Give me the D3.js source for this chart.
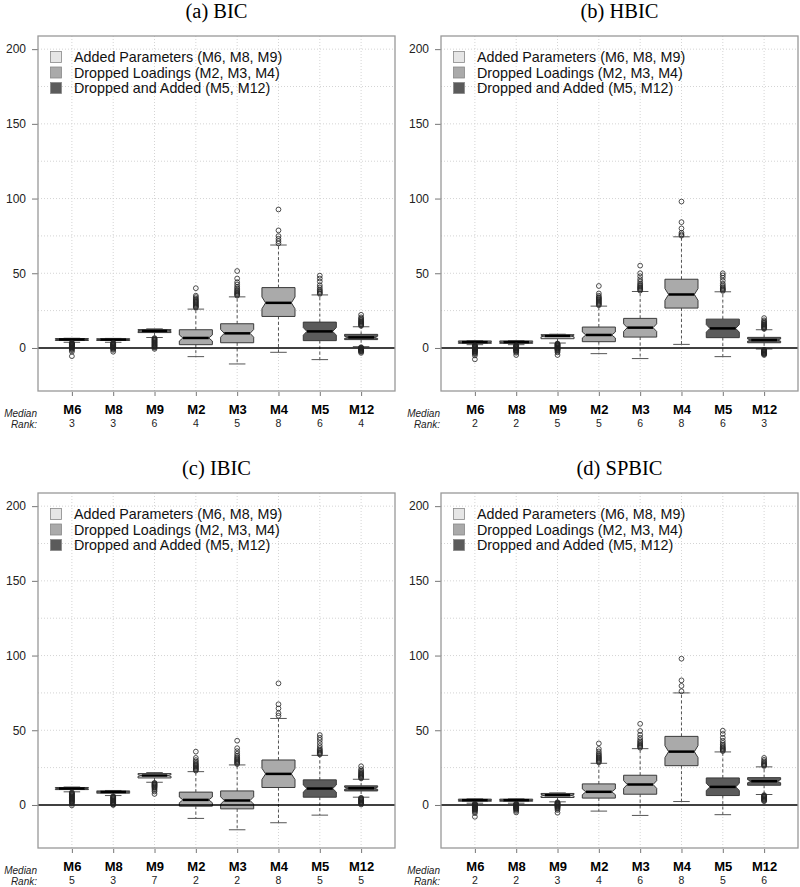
<!DOCTYPE html>
<html><head><meta charset="utf-8">
<script src="https://cdn.jsdelivr.net/npm/d3@7"></script>
<style>body{margin:0;background:#fff}</style>
</head><body><svg id="c" width="800" height="887"></svg>
<script>
const models = ["M6","M8","M9","M2","M3","M4","M5","M12"];
const groupOf = [0,0,0,1,1,1,2,2];
const groupColors = ["#e6e6e6","#aaaaaa","#5b5b5b"];
const legendLabels = ["Added Parameters (M6, M8, M9)","Dropped Loadings (M2, M3, M4)","Dropped and Added (M5, M12)"];
const yTicks = [0,50,100,150,200];
const yGrid = [25,50,75,100,125,150,175,200];
const panelTitles = ["(a) BIC","(b) HBIC","(c) IBIC","(d) SPBIC"];
const sampleN = 60;

// (a) BIC
const bicLow  = [3.8, 3.8, 7.0, -5.8, -10.7, -2.9, -7.8, 0.9];
const bicQ1   = [5.0, 5.0, 10.3, 2.2, 3.5, 21.1, 4.9, 5.6];
const bicMed  = [5.7, 5.6, 11.4, 6.7, 9.8, 30.2, 11.1, 7.1];
const bicQ3   = [6.3, 6.2, 12.3, 12.2, 16.2, 40.4, 17.3, 9.1];
const bicHigh = [6.5, 6.4, 12.8, 26, 34.2, 68.9, 35.5, 14.2];
const bicRank = [3,3,6,4,5,8,6,4];
const bicOut = [
  [3.5,3.2,3.0,2.8,2.5,2.2,2.0,1.7,1.5,1.2,1.0,0.7,0.4,0.1,-0.3,-0.8,-1.5,-2.5,-5.5],
  [3.5,3.2,2.9,2.6,2.3,2.0,1.7,1.4,1.1,0.8,0.5,0.2,-0.2,-0.7,-1.3,-2.5],
  [6.6,6.2,5.8,5.4,5.0,4.6,4.2,3.8,3.4,3.0,2.6,2.2,1.8,1.4,1.0,0.6,0.2,-0.6],
  [27,27.5,28,28.6,29.2,29.8,30.4,31,31.6,32.2,33,34,35,40],
  [35,35.6,36.2,36.8,37.5,38.2,39,40,41,42.5,44,46.5,51.5],
  [70,71.5,73.1,74.9,78.7,92.7],
  [36.2,36.8,37.5,38.3,39.2,40.5,42,44.5,46.5,48.4],
  [14.8,15.3,15.8,16.3,16.8,17.3,17.8,18.4,19,19.7,20.5,22.2,0.5,0.2,-0.1,-0.4,-0.7,-1,-1.3,-1.6,-1.9,-2.2,-2.6,-3.3]
];

// (b) HBIC
const hbicLow  = [2.2, 2.2, 3.3, -3.8, -7.1, 2.4, -5.8, -0.7];
const hbicQ1   = [3.1, 3.1, 6.2, 4.2, 7.3, 26.7, 6.9, 3.5];
const hbicMed  = [3.9, 3.9, 8.0, 8.7, 13.6, 35.8, 13.1, 5.3];
const hbicQ3   = [4.7, 4.7, 8.9, 14, 19.8, 46, 19.3, 7.1];
const hbicHigh = [4.9, 4.9, 9.2, 28, 37.8, 74.4, 37.6, 12.2];
const hbicRank = [2,2,5,5,6,8,6,3];
const hbicOut = [
  [1.9,1.6,1.3,1.0,0.7,0.4,0.1,-0.2,-0.5,-0.8,-1.1,-1.4,-1.7,-2,-2.3,-2.6,-3,-3.5,-4,-5,-7.6],
  [1.9,1.6,1.3,1.0,0.7,0.4,0.1,-0.2,-0.5,-0.8,-1.1,-1.4,-1.7,-2.1,-2.6,-3.2,-4.7],
  [3.0,2.7,2.4,2.1,1.8,1.5,1.2,0.9,0.6,0.3,0,-0.3,-0.6,-0.9,-1.2,-1.6,-2.2,-3,-4.7],
  [28.6,29.2,29.8,30.4,31,31.6,32.2,32.8,33.4,34,35,36.5,41.5],
  [38.4,39,39.6,40.2,40.8,41.5,42.3,43.2,44.5,46,48,50,55.1],
  [75.2,76,77.1,80,84.2,98],
  [38.2,38.8,39.4,40,40.8,41.8,43,45,47,48.6,50],
  [12.8,13.3,13.8,14.3,14.8,15.3,15.8,16.4,17,17.7,18.5,20,-1.2,-1.5,-1.8,-2.1,-2.4,-2.7,-3,-3.3,-3.6,-3.9,-4.2,-4.7]
];

// (c) IBIC
const ibicLow  = [8.8, 6.3, 15.2, -9, -16.6, -11.9, -6.8, 5.2];
const ibicQ1   = [10.3, 7.9, 18.1, -0.8, -2.6, 11.7, 5.2, 9.4];
const ibicMed  = [11.0, 8.7, 19.7, 3.4, 3.0, 20.8, 11.0, 11.2];
const ibicQ3   = [11.7, 9.4, 21.0, 8.6, 9.4, 30.1, 16.8, 12.8];
const ibicHigh = [12.0, 9.7, 21.7, 22.3, 26.8, 57.9, 33.2, 17.2];
const ibicRank = [5,3,7,2,2,8,5,5];
const ibicOut = [
  [8.4,8.0,7.6,7.2,6.8,6.4,6.0,5.6,5.2,4.8,4.4,4.0,3.6,3.2,2.8,2.4,2.0,1.5,0.8,-0.3],
  [5.9,5.5,5.1,4.7,4.3,3.9,3.5,3.1,2.7,2.3,1.9,1.5,1.1,0.7,0.3,0],
  [14.8,14.4,14,13.6,13.2,12.8,12.4,12,11.5,10.8,10,9,7.4],
  [23,23.6,24.2,24.8,25.4,26,26.6,27.3,28,29,30,31.5,35.7],
  [27.4,28,28.6,29.2,29.8,30.5,31.2,32,33,34.3,36,38,43],
  [59.7,61.4,64.6,67.4,81.4],
  [33.8,34.4,35,35.6,36.3,37,38,39.5,41.5,43.5,45,46.8],
  [17.8,18.3,18.8,19.3,19.8,20.3,20.9,21.5,22.2,23,24,25.9,4.8,4.4,4.0,3.6,3.2,2.8,2.4,2.0,1.6,1.2,0.8,0.3]
];

// (d) SPBIC
const spbicLow  = [1.2, 1.2, 2.1, -4.1, -7, 2.3, -6.5, 7];
const spbicQ1   = [2.5, 2.5, 5.0, 4.6, 7.2, 26.3, 6.3, 13.2];
const spbicMed  = [3.2, 3.2, 6.5, 8.8, 13.7, 35.7, 12.1, 15.9];
const spbicQ3   = [3.9, 3.9, 7.7, 14.1, 19.9, 45.9, 18.1, 18.3];
const spbicHigh = [4.1, 4.1, 8.1, 27.9, 37.7, 75, 35.5, 25.5];
const spbicRank = [2,2,3,4,6,8,5,6];
const spbicOut = [
  [0.9,0.6,0.3,0,-0.3,-0.6,-0.9,-1.2,-1.5,-1.8,-2.1,-2.4,-2.7,-3,-3.4,-3.9,-4.5,-5.5,-7.9],
  [0.9,0.6,0.3,0,-0.3,-0.6,-0.9,-1.2,-1.5,-1.8,-2.1,-2.4,-2.8,-3.3,-4,-5],
  [1.8,1.5,1.2,0.9,0.6,0.3,0,-0.3,-0.6,-0.9,-1.2,-1.6,-2,-2.6,-3.4,-5.2],
  [28.5,29.1,29.7,30.3,30.9,31.5,32.1,32.8,33.6,34.5,35.8,37.5,41.2],
  [38.3,38.9,39.5,40.1,40.8,41.6,42.5,43.5,45,47,49.5,54.3],
  [76.1,79.7,83.4,97.9],
  [36.1,36.7,37.3,37.9,38.6,39.4,40.3,41.5,43,45,47.5,49.7],
  [26.1,26.6,27.1,27.7,28.4,29.2,30.2,31.5,6.6,6.2,5.8,5.4,5,4.6,4.2,3.8,3.4,3,2.5]
];

const panels = [
  {title: panelTitles[0], low: bicLow, q1: bicQ1, med: bicMed, q3: bicQ3, high: bicHigh, out: bicOut, rank: bicRank, left: 38, top: 36},
  {title: panelTitles[1], low: hbicLow, q1: hbicQ1, med: hbicMed, q3: hbicQ3, high: hbicHigh, out: hbicOut, rank: hbicRank, left: 441, top: 36},
  {title: panelTitles[2], low: ibicLow, q1: ibicQ1, med: ibicMed, q3: ibicQ3, high: ibicHigh, out: ibicOut, rank: ibicRank, left: 38, top: 493},
  {title: panelTitles[3], low: spbicLow, q1: spbicQ1, med: spbicMed, q3: spbicQ3, high: spbicHigh, out: spbicOut, rank: spbicRank, left: 441, top: 493}
];

const W = 357, H = 355;
const svg = d3.select("#c");
const sans = "Liberation Sans, Arial, Helvetica, sans-serif";

panels.forEach(p => {
  const g = svg.append("g").attr("transform", `translate(${p.left},${p.top})`);
  const x = d3.scaleLinear().domain([0.18, 8.82]).range([0, W]);
  const y = d3.scaleLinear().domain([-28.8, 208.8]).range([H, 0]);
  const idx = d3.range(1, 9);

  // title
  svg.append("text").attr("x", p.left + W/2).attr("y", p.top - 18)
    .attr("text-anchor","middle").attr("font-family","Liberation Serif, Times New Roman, serif")
    .attr("font-size", 20.5).attr("fill","#000").text(p.title);

  // grid
  g.append("g").selectAll("line.v").data(idx).join("line")
    .attr("x1", d => x(d)).attr("x2", d => x(d)).attr("y1", 0).attr("y2", H)
    .attr("stroke","#d4d4d4").attr("stroke-width",1).attr("stroke-dasharray","1,2");
  g.append("g").selectAll("line.h").data(yGrid).join("line")
    .attr("x1", 0).attr("x2", W).attr("y1", d => y(d)).attr("y2", d => y(d))
    .attr("stroke","#d4d4d4").attr("stroke-width",1).attr("stroke-dasharray","1,2");

  // axes
  const ya = g.append("g").call(d3.axisLeft(y).tickValues(yTicks).tickSize(6).tickPadding(6).tickFormat(d3.format("d")));
  ya.select(".domain").remove();
  ya.selectAll("line").attr("stroke","#777");
  ya.selectAll("text").attr("font-family", sans).attr("font-size", 12).attr("fill","#222");

  const xa = g.append("g").attr("transform", `translate(0,${H})`)
    .call(d3.axisBottom(x).tickValues(idx).tickSize(4).tickFormat(d => models[d-1]));
  xa.select(".domain").remove();
  xa.selectAll("line").attr("stroke","#777").attr("y1", 1).attr("y2", 5);
  xa.selectAll("text").attr("font-family", sans).attr("font-size", 13).attr("font-weight","bold")
    .attr("fill","#000").attr("y", 18).attr("dy","0.35em");

  // Median rank row
  g.append("text").attr("text-anchor","end").attr("x", -1).attr("y", H + 25.5)
    .attr("font-family", sans).attr("font-size", 10).attr("font-style","italic").attr("fill","#222").text("Median");
  g.append("text").attr("text-anchor","end").attr("x", -1).attr("y", H + 36.5)
    .attr("font-family", sans).attr("font-size", 10).attr("font-style","italic").attr("fill","#222").text("Rank:");
  g.append("g").selectAll("text").data(idx).join("text")
    .attr("x", d => x(d)).attr("y", H + 36.3).attr("text-anchor","middle")
    .attr("font-family", sans).attr("font-size", 10.5).attr("fill","#222").text(d => p.rank[d-1]);

  // boxes
  const hw = x(1.4) - x(1);
  const capw = hw * 0.5;
  const bg = g.append("g");
  idx.forEach(d => {
    const i = d - 1, cx = x(d);
    const q1 = p.q1[i], q3 = p.q3[i], md = p.med[i];
    const nh = 1.58 * (q3 - q1) / Math.sqrt(sampleN);
    const nw = hw * 0.78;
    bg.append("line").attr("x1", cx).attr("x2", cx).attr("y1", y(q3)).attr("y2", y(p.high[i]))
      .attr("stroke","#555").attr("stroke-dasharray","3,2.5").attr("stroke-width",1);
    bg.append("line").attr("x1", cx).attr("x2", cx).attr("y1", y(q1)).attr("y2", y(p.low[i]))
      .attr("stroke","#555").attr("stroke-dasharray","3,2.5").attr("stroke-width",1);
    [p.high[i], p.low[i]].forEach(v => {
      bg.append("line").attr("x1", cx - capw).attr("x2", cx + capw).attr("y1", y(v)).attr("y2", y(v))
        .attr("stroke","#555").attr("stroke-width",1);
    });
    const pts = [
      [cx - hw, y(q1)], [cx - hw, y(md - nh)], [cx - nw, y(md)], [cx - hw, y(md + nh)], [cx - hw, y(q3)],
      [cx + hw, y(q3)], [cx + hw, y(md + nh)], [cx + nw, y(md)], [cx + hw, y(md - nh)], [cx + hw, y(q1)]
    ];
    bg.append("path").attr("d", d3.line()(pts) + "Z")
      .attr("fill", groupColors[groupOf[i]]).attr("stroke","#3a3a3a").attr("stroke-width",1);
    bg.append("line").attr("x1", cx - nw).attr("x2", cx + nw).attr("y1", y(md)).attr("y2", y(md))
      .attr("stroke","#000").attr("stroke-width",2.5);
  });

  // zero line
  g.append("line").attr("x1", 0).attr("x2", W).attr("y1", y(0)).attr("y2", y(0))
    .attr("stroke","#000").attr("stroke-width",1.5);

  // outliers
  const outData = [];
  p.out.forEach((arr, i) => arr.forEach(v => outData.push({i, v})));
  g.append("g").selectAll("circle").data(outData).join("circle")
    .attr("cx", d => x(d.i + 1)).attr("cy", d => y(d.v)).attr("r", 2.4)
    .attr("fill","none").attr("stroke","#222").attr("stroke-width",0.8);

  // frame
  g.append("rect").attr("x", 0).attr("y", 0).attr("width", W).attr("height", H)
    .attr("fill","none").attr("stroke","#999").attr("stroke-width",1.3);

  // legend
  const lg = g.append("g");
  legendLabels.forEach((t, k) => {
    const cy = 21 + k * 15.5;
    lg.append("rect").attr("x", 12.5).attr("y", cy - 5.5).attr("width", 11).attr("height", 11)
      .attr("fill", groupColors[k]).attr("stroke","#888").attr("stroke-width",0.8);
    lg.append("text").attr("x", 36).attr("y", cy).attr("dy","0.35em")
      .attr("font-family", sans).attr("font-size", 14.3).attr("fill","#111").text(t);
  });
});
</script></body></html>
